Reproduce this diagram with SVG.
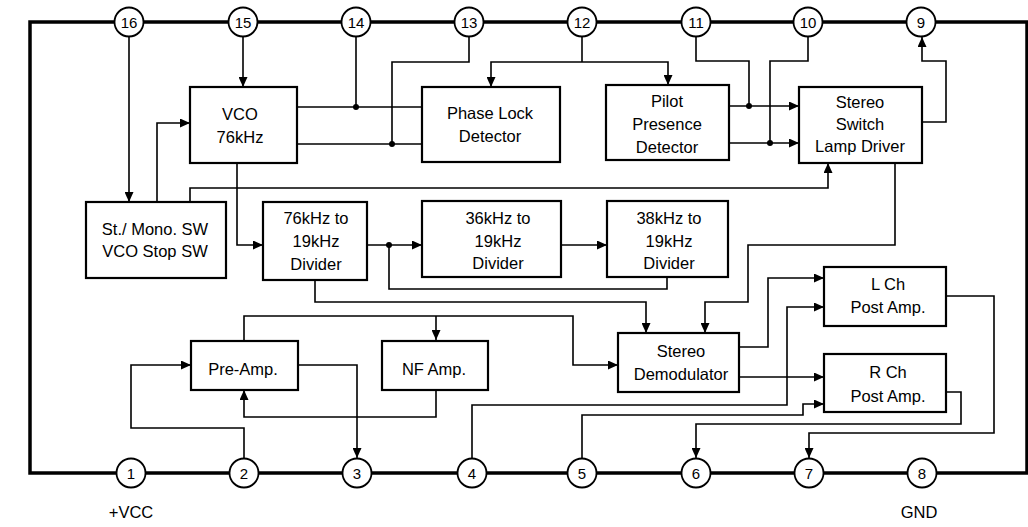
<svg xmlns="http://www.w3.org/2000/svg" width="1028" height="527" viewBox="0 0 1028 527">
<defs>
<marker id="ah" markerUnits="userSpaceOnUse" markerWidth="11" markerHeight="9" refX="10" refY="4.5" orient="auto">
<path d="M0,0 L10,4.5 L0,9 z" fill="#000"/>
</marker>
<style>
.frame{fill:none;stroke:#000;stroke-width:3.5}
.pin circle{fill:#fff;stroke:#000;stroke-width:1.8}
.pin text{font-family:"Liberation Sans",Arial,sans-serif;font-size:15px;text-anchor:middle;fill:#000}
.box rect{fill:#fff;stroke:#000;stroke-width:2.2}
.box text,.lbl{font-family:"Liberation Sans",Arial,sans-serif;font-size:16.5px;text-anchor:middle;fill:#000}
.w{fill:none;stroke:#000;stroke-width:1.6}
.a{marker-end:url(#ah)}
.dot{fill:#000}
</style>
</defs>
<rect width="1028" height="527" fill="#fff"/>
<rect class="frame" x="30" y="22" width="997" height="451"/>

<g id="connectors">
<path class="w a" d="M129,37 V202"/>
<path class="w a" d="M157,202 V123 H190"/>
<path class="w a" d="M243,37 V87"/>
<path class="w" d="M297,107 H422"/>
<path class="w" d="M356,37 V107"/>
<path class="w" d="M297,144 H422"/>
<path class="w" d="M469,37 V62 H392 V144"/>
<path class="w" d="M582,37 V62"/>
<path class="w a" d="M582,62 H491 V87"/>
<path class="w a" d="M582,62 H668 V85"/>
<path class="w a" d="M729,106 H799"/>
<path class="w a" d="M729,143 H799"/>
<path class="w" d="M696,37 V61 H749 V106"/>
<path class="w" d="M808,37 V61 H770 V143"/>
<path class="w a" d="M922,122 H946 V61 H922 V37"/>
<path class="w a" d="M190,202 V188 H828 V163"/>
<path class="w a" d="M237,163 V245 H263"/>
<path class="w a" d="M367,245 H422"/>
<path class="w" d="M389,245 V289 H667 V277"/>
<path class="w a" d="M561,245 H607"/>
<path class="w a" d="M315,280 V302 H646 V333"/>
<path class="w a" d="M895,163 V245 H748 V302 H705 V333"/>
<path class="w a" d="M244,341 V316 H573 V365 H618"/>
<path class="w a" d="M436,316 V340"/>
<path class="w a" d="M298,365 H357 V458"/>
<path class="w a" d="M436,391 V417 H244 V390"/>
<path class="w a" d="M244,458 V428 H131 V365 H191"/>
<path class="w a" d="M739,347 H768 V278 H824"/>
<path class="w a" d="M739,377 H824"/>
<path class="w a" d="M472,458 V405 H787 V307 H824"/>
<path class="w a" d="M582,458 V415 H803 V404 H824"/>
<path class="w a" d="M946,392 H961 V424 H696 V458"/>
<path class="w a" d="M946,296 H994 V433 H809 V458"/>
<circle class="dot" cx="356" cy="107" r="3"/>
<circle class="dot" cx="392" cy="144" r="3"/>
<circle class="dot" cx="749" cy="106" r="3"/>
<circle class="dot" cx="770" cy="143" r="3"/>
<circle class="dot" cx="389" cy="245" r="3"/>
</g>

<g id="pin16" class="pin"><circle cx="129" cy="22" r="14.5"/><text x="129" y="27.5">16</text></g>
<g id="pin15" class="pin"><circle cx="243" cy="22" r="14.5"/><text x="243" y="27.5">15</text></g>
<g id="pin14" class="pin"><circle cx="356" cy="22" r="14.5"/><text x="356" y="27.5">14</text></g>
<g id="pin13" class="pin"><circle cx="469" cy="22" r="14.5"/><text x="469" y="27.5">13</text></g>
<g id="pin12" class="pin"><circle cx="582" cy="22" r="14.5"/><text x="582" y="27.5">12</text></g>
<g id="pin11" class="pin"><circle cx="696" cy="22" r="14.5"/><text x="696" y="27.5">11</text></g>
<g id="pin10" class="pin"><circle cx="808" cy="22" r="14.5"/><text x="808" y="27.5">10</text></g>
<g id="pin9" class="pin"><circle cx="921" cy="22" r="14.5"/><text x="921" y="27.5">9</text></g>
<g id="pin1" class="pin"><circle cx="131" cy="473" r="14.5"/><text x="131" y="478.5">1</text></g>
<g id="pin2" class="pin"><circle cx="244" cy="473" r="14.5"/><text x="244" y="478.5">2</text></g>
<g id="pin3" class="pin"><circle cx="357" cy="473" r="14.5"/><text x="357" y="478.5">3</text></g>
<g id="pin4" class="pin"><circle cx="472" cy="473" r="14.5"/><text x="472" y="478.5">4</text></g>
<g id="pin5" class="pin"><circle cx="582" cy="473" r="14.5"/><text x="582" y="478.5">5</text></g>
<g id="pin6" class="pin"><circle cx="696" cy="473" r="14.5"/><text x="696" y="478.5">6</text></g>
<g id="pin7" class="pin"><circle cx="809" cy="473" r="14.5"/><text x="809" y="478.5">7</text></g>
<g id="pin8" class="pin"><circle cx="922" cy="473" r="14.5"/><text x="922" y="478.5">8</text></g>

<text class="lbl" x="131" y="518">+VCC</text>
<text class="lbl" x="919" y="518">GND</text>

<g id="vco" class="box"><rect x="190" y="87" width="107" height="76"/><text x="240" y="120">VCO</text><text x="240" y="143">76kHz</text></g>
<g id="pld" class="box"><rect x="422" y="87" width="138" height="75"/><text x="490" y="119">Phase Lock</text><text x="490" y="142">Detector</text></g>
<g id="ppd" class="box"><rect x="606" y="85" width="123" height="75"/><text x="667" y="107">Pilot</text><text x="667" y="130">Presence</text><text x="667" y="153">Detector</text></g>
<g id="ssw" class="box"><rect x="799" y="87" width="123" height="76"/><text x="860" y="108">Stereo</text><text x="860" y="130">Switch</text><text x="860" y="152">Lamp Driver</text></g>
<g id="stmono" class="box"><rect x="86" y="202" width="140" height="76"/><text x="155" y="235">St./ Mono. SW</text><text x="155" y="257">VCO Stop SW</text></g>
<g id="div76" class="box"><rect x="263" y="202" width="104" height="78"/><text x="316" y="224">76kHz to</text><text x="316" y="247">19kHz</text><text x="316" y="270">Divider</text></g>
<g id="div36" class="box"><rect x="422" y="201" width="139" height="76"/><text x="498" y="224">36kHz to</text><text x="498" y="247">19kHz</text><text x="498" y="269">Divider</text></g>
<g id="div38" class="box"><rect x="607" y="201" width="121" height="76"/><text x="669" y="224">38kHz to</text><text x="669" y="247">19kHz</text><text x="669" y="269">Divider</text></g>
<g id="lch" class="box"><rect x="824" y="267" width="122" height="59"/><text x="888" y="290">L Ch</text><text x="888" y="313">Post Amp.</text></g>
<g id="rch" class="box"><rect x="824" y="354" width="122" height="58"/><text x="888" y="378">R Ch</text><text x="888" y="402">Post Amp.</text></g>
<g id="demod" class="box"><rect x="618" y="333" width="121" height="59"/><text x="681" y="357">Stereo</text><text x="681" y="380">Demodulator</text></g>
<g id="preamp" class="box"><rect x="191" y="341" width="107" height="49"/><text x="243" y="375">Pre-Amp.</text></g>
<g id="nfamp" class="box"><rect x="382" y="341" width="106" height="49"/><text x="434" y="375">NF Amp.</text></g>
</svg>
